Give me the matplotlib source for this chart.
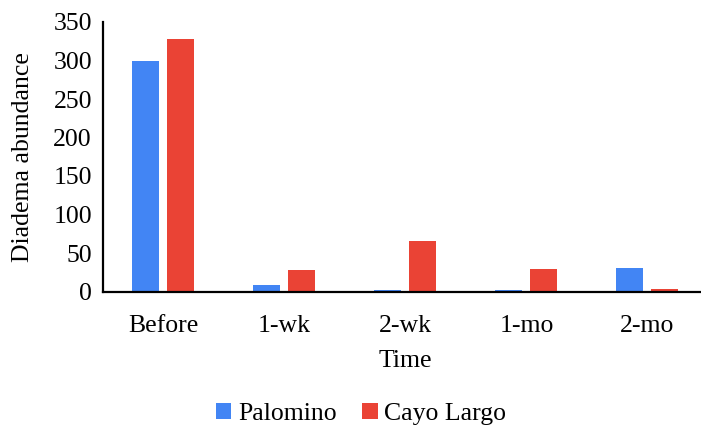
import matplotlib
matplotlib.use("Agg")
import matplotlib.pyplot as plt
import numpy as np

categories = ["Before", "1-wk", "2-wk", "1-mo", "2-mo"]
palomino = [300, 8, 2, 2, 30]
cayo_largo = [328, 28, 66, 29, 3]
series_names = ["Palomino", "Cayo Largo"]
colors = ["#4285F4", "#EA4335"]

plt.rcParams['font.family'] = ['Liberation Serif', 'DejaVu Serif']

W, H = 701, 425
fig = plt.figure(figsize=(W/100, H/100), dpi=100)
left, right, top, bottom = 103, 708, 22, 291.5
ax = fig.add_axes([left/W, 1-bottom/H, (right-left)/W, (bottom-top)/H])

x = np.arange(len(categories))
bw = 0.223
ax.bar(x - 0.145, palomino, bw, color=colors[0], label=series_names[0])
ax.bar(x + 0.14, cayo_largo, bw, color=colors[1], label=series_names[1])

fs = 18.5
ax.set_xlim(-0.5, 4.5)
ax.set_ylim(0, 350)
ax.set_yticks(range(0, 351, 50))
ax.set_xticks(x)
ax.set_xticklabels(categories)
ax.tick_params(length=0, labelsize=fs)
ax.tick_params(axis='y', pad=8)
ax.tick_params(axis='x', pad=17)
for s in ['top', 'right']:
    ax.spines[s].set_visible(False)
for s in ['left', 'bottom']:
    ax.spines[s].set_linewidth(1.6)
    ax.spines[s].set_color('black')
ax.set_ylabel("Diadema abundance", fontsize=fs, labelpad=14)
ax.set_xlabel("Time", fontsize=fs, labelpad=9)

leg = fig.legend(loc='center', bbox_to_anchor=(0.515, 1 - 414/H), ncol=2, frameon=False,
                 fontsize=fs, handlelength=0.6, handleheight=0.6, handletextpad=0.25,
                 columnspacing=1.0)

fig.savefig("out.png", dpi=100)
